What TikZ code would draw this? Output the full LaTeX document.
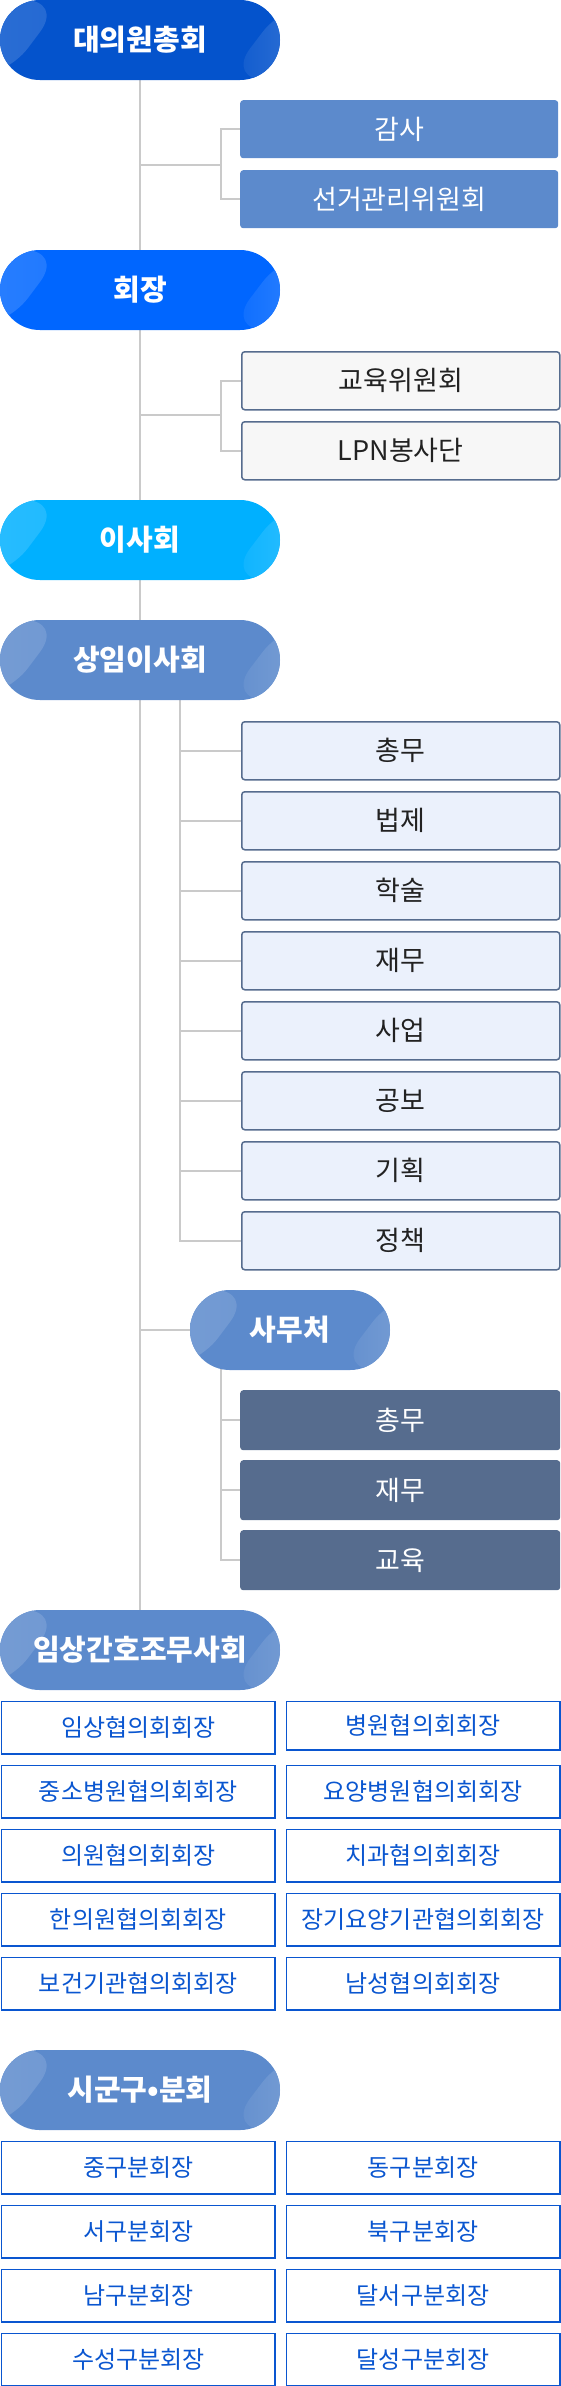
\documentclass[tikz,border=0pt]{standalone}
\usepackage{fontspec}
\setmainfont{Noto Sans CJK KR}
\usetikzlibrary{backgrounds}
\definecolor{cPa}{RGB}{4,83,204}
\definecolor{cPb}{RGB}{0,102,255}
\definecolor{cPc}{RGB}{0,176,255}
\definecolor{cPd}{RGB}{92,138,204}
\definecolor{cSlate}{RGB}{86,108,142}
\definecolor{cGrey}{RGB}{247,247,247}
\definecolor{cLB}{RGB}{235,241,252}
\definecolor{cGrid}{RGB}{10,86,208}
\definecolor{cLine}{RGB}{202,202,202}
\definecolor{cTxt}{RGB}{34,34,34}
\tikzset{
  pill/.style={rectangle, rounded corners=40pt, minimum width=280pt, minimum height=80pt,
    inner sep=0pt, fill=#1, text=white, font=\bfseries\fontsize{29}{29}\selectfont,
    path picture={
      \shade[left color=#1!85!white, right color=#1!97!white]
        (path picture bounding box.north west) -- ([xshift=64pt]path picture bounding box.north west)
        -- ([xshift=4pt]path picture bounding box.south west) -- (path picture bounding box.south west) -- cycle;
      \shade[left color=#1!97!white, right color=#1!85!white]
        ([xshift=-54pt]path picture bounding box.south east) -- ([xshift=7pt]path picture bounding box.north east)
        -- ([xshift=10pt]path picture bounding box.north east) -- ([xshift=10pt]path picture bounding box.south east) -- cycle;
    }},
  rbox/.style={rectangle, rounded corners=3pt, minimum width=318pt, minimum height=58pt,
    anchor=north west, inner sep=0pt, font=\fontsize{27}{27}\selectfont},
  midbox/.style={rbox, fill=cPd, text=white},
  greybox/.style={rbox, fill=cGrey, draw=cSlate, line width=1.5pt, text=cTxt},
  lbbox/.style={rbox, fill=cLB, draw=cSlate, line width=1.5pt, text=cTxt},
  darkbox/.style={rbox, fill=cSlate, text=white},
  gridbox/.style={rectangle, minimum width=273.5pt, minimum height=52.5pt, anchor=north west,
    inner sep=0pt, draw=cGrid, line width=1.5pt, fill=white, text=cGrid, font=\fontsize{24}{24}\selectfont},
  conn/.style={draw=cLine, line width=2pt},
}
\begin{document}
\begin{tikzpicture}[x=1pt,y=-1pt]
\useasboundingbox (0,0) rectangle (560,2386);
% main pills
\node[pill=cPa] (P1) at (140,40) {대의원총회};
\node[pill=cPb] (P2) at (140,290) {회장};
\node[pill=cPc] (P3) at (140,540) {이사회};
\node[pill=cPd] (P4) at (140,660) {상임이사회};
\node[pill=cPd, minimum width=200pt] (samu) at (290,1330) {사무처};
\node[pill=cPd] (P5) at (140,1650) {임상간호조무사회};
\node[pill=cPd] (P6) at (140,2090) {시군구•분회};
% group A
\node[midbox] (gamsa) at (240,100) {감사};
\node[midbox] (seon) at (240,170) {선거관리위원회};
% group B
\node[greybox] (edu) at (241,351) {교육위원회};
\node[greybox] (lpn) at (241,421) {LPN봉사단};
% standing committees
\node[lbbox] (s1) at (241,721) {총무};
\node[lbbox] (s2) at (241,791) {법제};
\node[lbbox] (s3) at (241,861) {학술};
\node[lbbox] (s4) at (241,931) {재무};
\node[lbbox] (s5) at (241,1001) {사업};
\node[lbbox] (s6) at (241,1071) {공보};
\node[lbbox] (s7) at (241,1141) {기획};
\node[lbbox] (s8) at (241,1211) {정책};
% secretariat
\node[darkbox, minimum width=320pt, minimum height=60pt] (d1) at (240,1390) {총무};
\node[darkbox, minimum width=320pt, minimum height=60pt] (d2) at (240,1460) {재무};
\node[darkbox, minimum width=320pt, minimum height=60pt] (d3) at (240,1530) {교육};
% grid 1
\node[gridbox] (ga1) at (0.8,1700.8) {임상협의회회장};
\node[gridbox, minimum height=48.5pt] (gb1) at (285.6,1700.8) {병원협의회회장};
\node[gridbox] (ga2) at (0.8,1764.8) {중소병원협의회회장};
\node[gridbox] (gb2) at (285.6,1764.8) {요양병원협의회회장};
\node[gridbox] (ga3) at (0.8,1828.8) {의원협의회회장};
\node[gridbox] (gb3) at (285.6,1828.8) {치과협의회회장};
\node[gridbox] (ga4) at (0.8,1892.8) {한의원협의회회장};
\node[gridbox] (gb4) at (285.6,1892.8) {장기요양기관협의회회장};
\node[gridbox] (ga5) at (0.8,1956.8) {보건기관협의회회장};
\node[gridbox] (gb5) at (285.6,1956.8) {남성협의회회장};
% grid 2
\node[gridbox] (ha1) at (0.8,2140.8) {중구분회장};
\node[gridbox] (hb1) at (285.6,2140.8) {동구분회장};
\node[gridbox] (ha2) at (0.8,2204.8) {서구분회장};
\node[gridbox] (hb2) at (285.6,2204.8) {북구분회장};
\node[gridbox] (ha3) at (0.8,2268.8) {남구분회장};
\node[gridbox] (hb3) at (285.6,2268.8) {달서구분회장};
\node[gridbox] (ha4) at (0.8,2332.8) {수성구분회장};
\node[gridbox] (hb4) at (285.6,2332.8) {달성구분회장};
% connectors
\begin{scope}[on background layer]
  \draw[conn] (P1.south) -- (P5.north);
  \coordinate (ja) at (221,165);
  \draw[conn] (P1.south |- ja) -- (ja);
  \draw[conn] (gamsa.west) -| (ja) |- (seon.west);
  \coordinate (jb) at (221,415);
  \draw[conn] (P1.south |- jb) -- (jb);
  \draw[conn] (edu.west) -| (jb) |- (lpn.west);
  \coordinate (sx) at (180,700);
  \draw[conn] (sx) |- (s8.west);
  \foreach \k in {1,...,7} { \draw[conn] (s\k.west) -- (s\k.west -| sx); }
  \draw[conn] (samu.west) -- (samu.west -| P1.south);
  \coordinate (sy) at (221,1366);
  \draw[conn] (sy) |- (d3.west);
  \draw[conn] (d1.west) -- (d1.west -| sy);
  \draw[conn] (d2.west) -- (d2.west -| sy);
\end{scope}
\end{tikzpicture}
\end{document}
